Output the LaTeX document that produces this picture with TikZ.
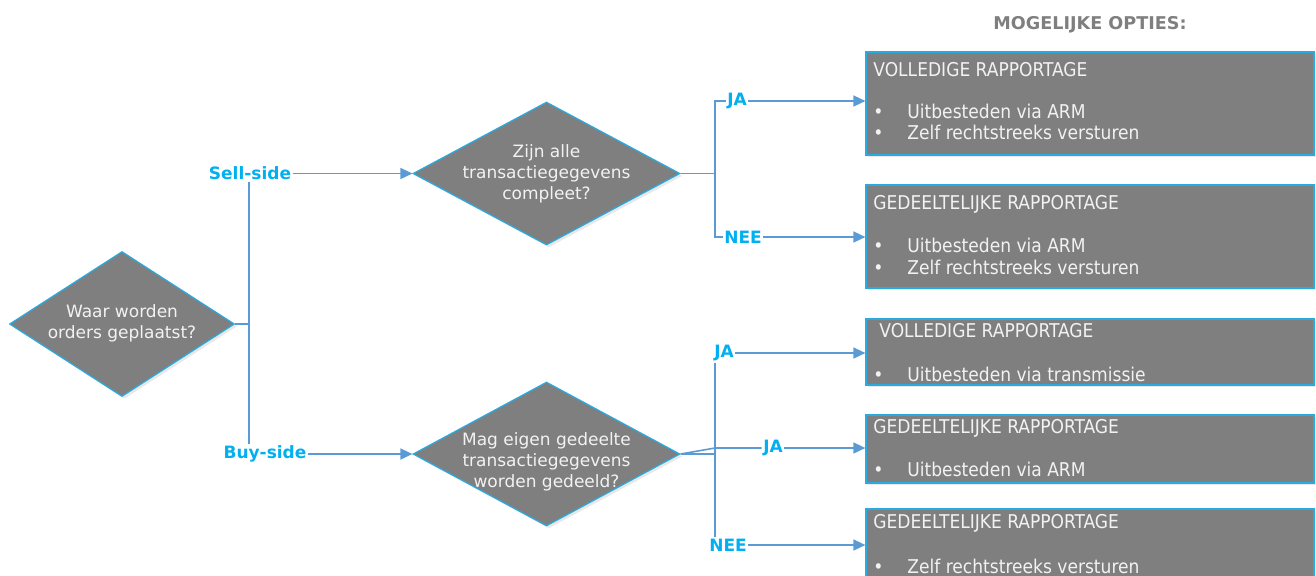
\documentclass[tikz,border=0pt]{standalone}
\usepackage{fontspec}
\setmainfont{DejaVu Sans}
\newfontfamily\condfont{DejaVu Sans Condensed}
\usetikzlibrary{shapes.geometric,arrows.meta,shadows}
\definecolor{boxgray}{HTML}{7F7F7F}
\definecolor{edgecyan}{HTML}{29ABE2}
\definecolor{lineblue}{HTML}{5B9BD5}
\definecolor{labcyan}{HTML}{00B0F0}
\definecolor{txt}{HTML}{F2F2F2}
\begin{document}
\begin{tikzpicture}[x=0.5pt,y=-0.5pt,
 shade/.style={drop shadow={shadow xshift=1.2pt,shadow yshift=-1.2pt,opacity=0.18}},
 dia/.style={diamond,fill=boxgray,draw=edgecyan,line width=0.6pt,inner sep=0,shade},
 diatext/.style={text=txt,align=center,inner sep=0,font=\fontsize{8.5}{10.5}\selectfont},
 optbox/.style={rectangle,fill=boxgray,draw=edgecyan,line width=0.6pt,inner sep=0,minimum width=224pt,shade},
 boxtext/.style={text=txt,anchor=west,inner sep=0,font=\condfont\fontsize{9.5}{11}\selectfont},
 bul/.style={boxtext,yshift=-1.5pt},
 lab/.style={text=labcyan,fill=white,inner sep=0.6pt,font=\bfseries\fontsize{8.5}{10}\selectfont},
 conn/.style={draw=lineblue,line width=0.8pt},
 arr/.style={conn,-{Triangle[length=6pt,width=5.5pt]}},
]
\useasboundingbox (0,0) rectangle (1316,575);

% heading
\node[font=\bfseries\fontsize{8.8}{10}\selectfont,text=boxgray] (head) at (1090,25) {MOGELIJKE OPTIES:};

% diamonds
\node[dia,minimum width=112.5pt,minimum height=72.5pt] (d1) at (122,324) {};
\node[diatext] (d1t) at (122,323) {Waar worden\\orders geplaatst?};
\node[dia,minimum width=133.5pt,minimum height=71.5pt] (d2) at (546.5,173.5) {};
\node[diatext] (d2t) at (546.5,174) {Zijn alle\\transactiegegevens\\compleet?};
\node[dia,minimum width=133.5pt,minimum height=72pt] (d3) at (546.5,454) {};
\node[diatext] (d3t) at (546.5,462) {Mag eigen gedeelte\\transactiegegevens\\worden gedeeld?};

% option boxes
\node[optbox,minimum height=51.5pt] (b1) at (1090,103.5) {};
\node[optbox,minimum height=51.5pt] (b2) at (1090,236.5) {};
\node[optbox,minimum height=33pt] (b3) at (1090,352) {};
\node[optbox,minimum height=34pt] (b4) at (1090,449) {};
\node[optbox,minimum height=46pt] (b5) at (1090,555) {};

\node[boxtext] (b1t) at (873,70) {VOLLEDIGE RAPPORTAGE};
\node[bul] (b1p1) at (873,111) {•};
\node[boxtext] (b1a) at (907,111) {Uitbesteden via ARM};
\node[bul] (b1p2) at (873,132) {•};
\node[boxtext] (b1b) at (907,132) {Zelf rechtstreeks versturen};

\node[boxtext] (b2t) at (873,204) {GEDEELTELIJKE RAPPORTAGE};
\node[bul] (b2p1) at (873,245) {•};
\node[boxtext] (b2a) at (907,245) {Uitbesteden via ARM};
\node[bul] (b2p2) at (873,267) {•};
\node[boxtext] (b2b) at (907,267) {Zelf rechtstreeks versturen};

\node[boxtext] (b3t) at (879,331) {VOLLEDIGE RAPPORTAGE};
\node[bul] (b3p1) at (873,374) {•};
\node[boxtext] (b3a) at (907,374) {Uitbesteden via transmissie};

\node[boxtext] (b4t) at (873,428) {GEDEELTELIJKE RAPPORTAGE};
\node[bul] (b4p1) at (873,469) {•};
\node[boxtext] (b4a) at (907,469) {Uitbesteden via ARM};

\node[boxtext] (b5t) at (873,523) {GEDEELTELIJKE RAPPORTAGE};
\node[bul] (b5p1) at (873,566) {•};
\node[boxtext] (b5a) at (907,566) {Zelf rechtstreeks versturen};

% labels
\node[lab] (sell) at (250,173.5) {Sell-side};
\node[lab] (buy) at (265,454) {Buy-side};
\node[lab] (ja1) at (737,101) {JA};
\node[lab] (nee1) at (743,237) {NEE};
\node[lab] (ja2) at (724,353) {JA};
\node[lab] (ja3) at (773,448) {JA};
\node[lab] (nee2) at (728,545) {NEE};

% connectors
\coordinate (j1) at (249,324);
\draw[conn] (d1.east) -- (j1);
\draw[conn] (j1 |- sell.south) -- (j1 |- buy.north);
\draw[arr] (sell.east) -- (d2.west);
\draw[arr] (buy.east) -- (d3.west);

\coordinate (j2) at (715,173.5);
\draw[conn] (d2.east) -- (j2);
\draw[conn] (ja1.west) -| (j2) |- (nee1.west);
\draw[arr] (ja1.east) -- (ja1.east -| b1.west);
\draw[arr] (nee1.east) -- (nee1.east -| b2.west);

\coordinate (j3) at (715,454);
\coordinate (j4) at (715,448);
\draw[conn] (d3.east) -- (j3);
\draw[conn] (j3 |- ja2.south) -- (j3 |- nee2.north);
\draw[conn] (d3.east) -- (j4) -- (ja3.west);
\draw[arr] (ja2.east) -- (ja2.east -| b3.west);
\draw[arr] (ja3.east) -- (ja3.east -| b4.west);
\draw[arr] (nee2.east) -- (nee2.east -| b5.west);
\end{tikzpicture}
\end{document}
